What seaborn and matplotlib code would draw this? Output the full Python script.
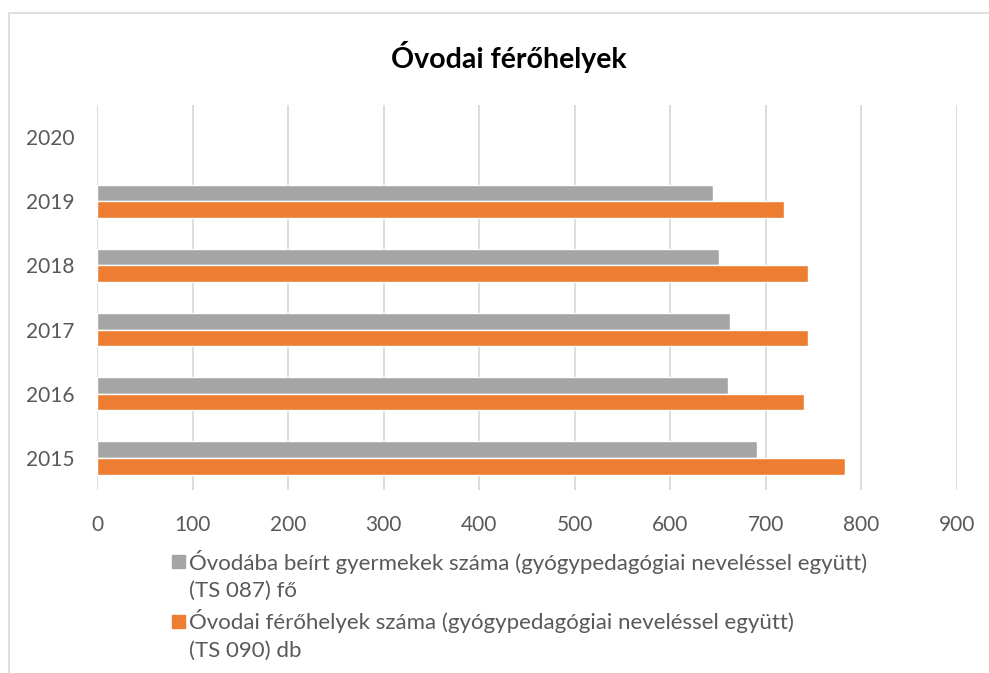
import pandas as pd
import matplotlib.pyplot as plt
import seaborn as sns
from matplotlib.patches import Patch, Rectangle

sns.set_theme(style='white')
plt.rcParams['font.family'] = ['Lato', 'DejaVu Sans']

years = ['2020', '2019', '2018', '2017', '2016', '2015']
data_years = ['2019', '2018', '2017', '2016', '2015']
beirt = [645, 651, 662, 660, 691]
ferohely = [719, 744, 744, 740, 783]
series = ['Óvodába beírt gyermekek száma (gyógypedagógiai neveléssel együtt)',
          'Óvodai férőhelyek száma (gyógypedagógiai neveléssel együtt)']
units = ['(TS 087) fő', '(TS 090) db']
colors = ['#A5A5A5', '#ED7D31']

df = pd.DataFrame({
    'year': data_years * 2,
    'series': [series[0]] * len(data_years) + [series[1]] * len(data_years),
    'value': beirt + ferohely,
})

fig = plt.figure(figsize=(9.89, 6.73), dpi=100)
ax = fig.add_axes([0.0981, 0.2719, 0.8696, 0.5721])

# keret
fig.patches.append(Rectangle((9 / 989, -0.1), 1.1, 1 - 13 / 673 + 0.1, transform=fig.transFigure,
                             fill=False, edgecolor='#d9d9d9', linewidth=1.2))

sns.barplot(data=df, x='value', y='year', hue='series', order=years, hue_order=series,
            palette=colors, orient='h', width=0.52, gap=0, saturation=1, legend=False, ax=ax)

ax.set_xlim(0, 900)
ax.set_xticks(range(0, 1000, 100))
ax.grid(axis='x', color='#d9d9d9', linewidth=1.3)
ax.set_axisbelow(True)
for s in ax.spines.values():
    s.set_visible(False)
ax.tick_params(axis='both', length=0, labelsize=15, labelcolor='#595959')
ax.tick_params(axis='x', pad=18)
ax.tick_params(axis='y', pad=16)
ax.set_xlabel('')
ax.set_ylabel('')

fig.text(0.514, 0.915, 'Óvodai férőhelyek', ha='center', va='center',
         fontsize=20.5, fontweight='bold', color='black')

# jelmagyarázat: a második sor külön, jel nélkül
handles, labels = [], []
for c, s, u in zip(colors, series, units):
    handles += [Patch(color=c), Patch(color='none')]
    labels += [s, u]
leg = fig.legend(handles, labels, loc='upper left', bbox_to_anchor=(0.163, 0.2),
                 frameon=False, fontsize=16, labelcolor='#595959', handlelength=0.55,
                 handleheight=0.55, handletextpad=0.2, labelspacing=0.35, borderpad=0)

plt.savefig('out.png', dpi=100)
plt.close()
